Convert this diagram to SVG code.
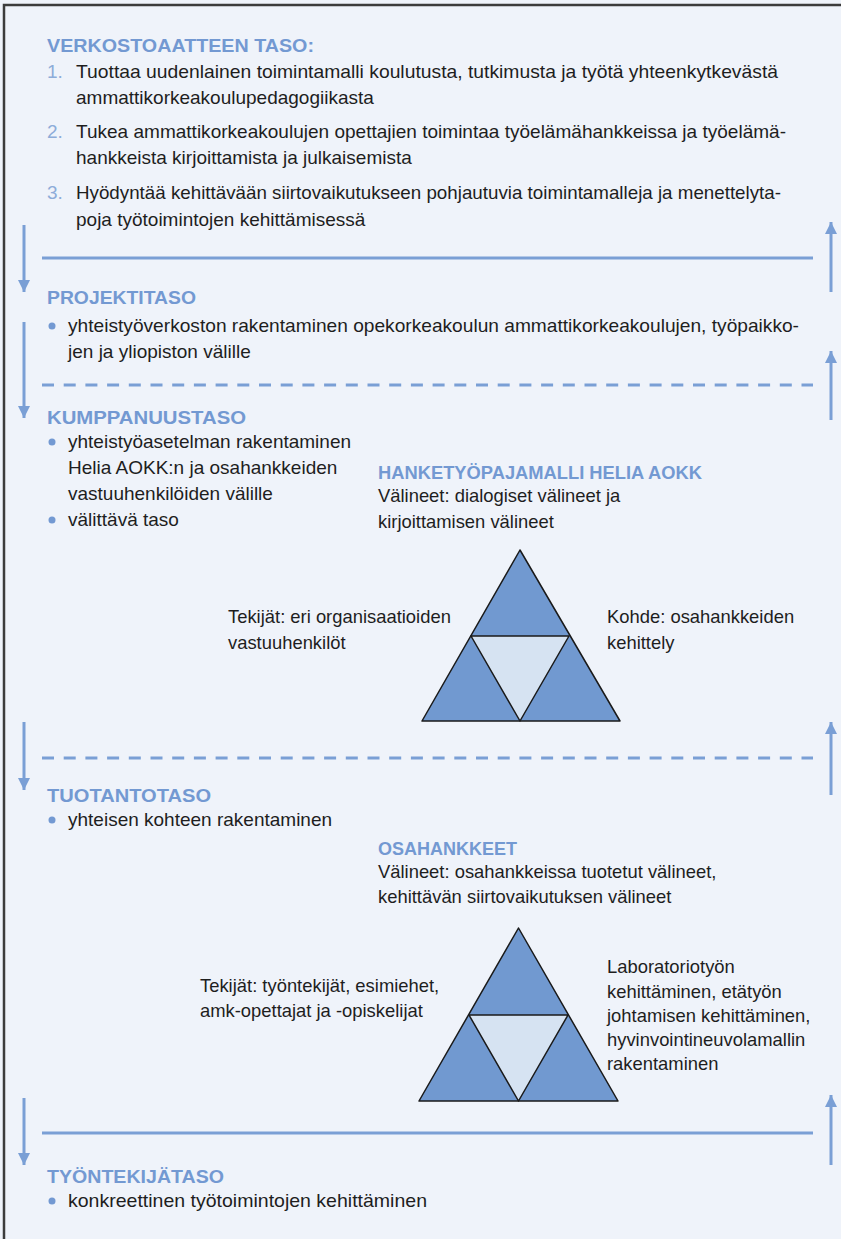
<svg xmlns="http://www.w3.org/2000/svg" width="841" height="1239" viewBox="0 0 841 1239">
<defs>
<style>
.bg{fill:#eff3fa}
.frame{fill:none;stroke:#3c3c3c;stroke-width:2.5}
.h{font-family:"Liberation Sans",Arial,sans-serif;font-weight:bold;font-size:19px;fill:#7399d2}
.t{font-family:"Liberation Sans",Arial,sans-serif;font-size:19px;fill:#1e1e1e}
.s{font-size:18.4px}
.n{font-family:"Liberation Sans",Arial,sans-serif;font-size:19px;fill:#8dacd9}
.b{fill:#7399d2}
.sep{stroke:#7a9fd5;stroke-width:3;fill:none}
.dash{stroke-dasharray:12 9.7}
.arr{stroke:#7a9fd5;stroke-width:3;fill:none}
.tri{fill:#7199d0;stroke:#1a1a1a;stroke-width:1.5;stroke-linejoin:round}
.inner{fill:#d6e3f2;stroke:#1a1a1a;stroke-width:1.5;stroke-linejoin:round}
</style>
<marker id="ah" viewBox="0 0 12 16" refX="12" refY="6" markerWidth="12" markerHeight="16" markerUnits="userSpaceOnUse" orient="auto">
<path d="M0,0 L16,6 L0,12 Z" fill="#7a9fd5" transform="scale(0.75,1)"/>
</marker>
</defs>
<rect class="bg" x="0" y="0" width="841" height="1239"/>
<path class="frame" d="M4,1239 V5 H841"/>

<g id="connectors">
<line class="sep" x1="42" y1="258" x2="813" y2="258"/>
<line class="sep dash" x1="42" y1="385" x2="813" y2="385"/>
<line class="sep dash" x1="42" y1="758" x2="813" y2="758"/>
<line class="sep" x1="42" y1="1133" x2="813" y2="1133"/>
<line class="arr" x1="24" y1="225" x2="24" y2="292" marker-end="url(#ah)"/>
<line class="arr" x1="831" y1="292" x2="831" y2="222" marker-end="url(#ah)"/>
<line class="arr" x1="24" y1="322" x2="24" y2="418" marker-end="url(#ah)"/>
<line class="arr" x1="831" y1="420" x2="831" y2="351" marker-end="url(#ah)"/>
<line class="arr" x1="24" y1="722" x2="24" y2="790" marker-end="url(#ah)"/>
<line class="arr" x1="831" y1="795" x2="831" y2="722" marker-end="url(#ah)"/>
<line class="arr" x1="24" y1="1098" x2="24" y2="1165" marker-end="url(#ah)"/>
<line class="arr" x1="831" y1="1165" x2="831" y2="1095" marker-end="url(#ah)"/>
</g>

<g id="verkostoaatteen-taso">
<text class="h" x="47" y="52" textLength="267" lengthAdjust="spacingAndGlyphs">VERKOSTOAATTEEN TASO:</text>
<text class="n" x="47" y="78">1.</text>
<text class="t" x="76" y="78" textLength="702" lengthAdjust="spacingAndGlyphs">Tuottaa uudenlainen toimintamalli koulutusta, tutkimusta ja työtä yhteenkytkevästä</text>
<text class="t" x="76" y="104">ammattikorkeakoulupedagogiikasta</text>
<text class="n" x="47" y="138">2.</text>
<text class="t" x="76" y="138" textLength="710" lengthAdjust="spacingAndGlyphs">Tukea ammattikorkeakoulujen opettajien toimintaa työelämähankkeissa ja työelämä-</text>
<text class="t" x="76" y="164">hankkeista kirjoittamista ja julkaisemista</text>
<text class="n" x="47" y="199">3.</text>
<text class="t" x="76" y="199" textLength="705" lengthAdjust="spacingAndGlyphs">Hyödyntää kehittävään siirtovaikutukseen pohjautuvia toimintamalleja ja menettelyta-</text>
<text class="t" x="76" y="226">poja työtoimintojen kehittämisessä</text>
</g>

<g id="projektitaso">
<text class="h" x="47" y="304" textLength="149" lengthAdjust="spacingAndGlyphs">PROJEKTITASO</text>
<circle class="b" cx="52" cy="326" r="3.5"/>
<text class="t" x="68" y="332" textLength="731" lengthAdjust="spacingAndGlyphs">yhteistyöverkoston rakentaminen opekorkeakoulun ammattikorkeakoulujen, työpaikko-</text>
<text class="t" x="68" y="358">jen ja yliopiston välille</text>
</g>

<g id="kumppanuustaso">
<text class="h" x="47" y="424" textLength="199" lengthAdjust="spacingAndGlyphs">KUMPPANUUSTASO</text>
<circle class="b" cx="52" cy="442" r="3.5"/>
<text class="t" x="68" y="448">yhteistyöasetelman rakentaminen</text>
<text class="t" x="68" y="474">Helia AOKK:n ja osahankkeiden</text>
<text class="t" x="68" y="500">vastuuhenkilöiden välille</text>
<circle class="b" cx="52" cy="520" r="3.5"/>
<text class="t" x="68" y="526">välittävä taso</text>
</g>

<g id="hanketyopajamalli">
<text class="h" x="378" y="479" textLength="324" lengthAdjust="spacingAndGlyphs">HANKETYÖPAJAMALLI HELIA AOKK</text>
<text class="t s" x="378" y="502">Välineet: dialogiset välineet ja</text>
<text class="t s" x="378" y="528">kirjoittamisen välineet</text>
<polygon class="tri" points="520,550 422,721 620,721"/>
<polygon class="inner" points="471,636 569,636 520,721"/>
<text class="t s" x="228" y="623">Tekijät: eri organisaatioiden</text>
<text class="t s" x="228" y="649">vastuuhenkilöt</text>
<text class="t s" x="607" y="623">Kohde: osahankkeiden</text>
<text class="t s" x="607" y="649">kehittely</text>
</g>

<g id="tuotantotaso">
<text class="h" x="47" y="802" textLength="164" lengthAdjust="spacingAndGlyphs">TUOTANTOTASO</text>
<circle class="b" cx="52" cy="820" r="3.5"/>
<text class="t" x="68" y="826">yhteisen kohteen rakentaminen</text>
</g>

<g id="osahankkeet">
<text class="h" x="378" y="855" textLength="139" lengthAdjust="spacingAndGlyphs">OSAHANKKEET</text>
<text class="t s" x="378" y="878">Välineet: osahankkeissa tuotetut välineet,</text>
<text class="t s" x="378" y="903">kehittävän siirtovaikutuksen välineet</text>
<polygon class="tri" points="518.5,928 419,1101 618,1101"/>
<polygon class="inner" points="469,1015 568,1015 518.5,1101"/>
<text class="t s" x="200" y="992">Tekijät: työntekijät, esimiehet,</text>
<text class="t s" x="200" y="1017">amk-opettajat ja -opiskelijat</text>
<text class="t s" x="607" y="973">Laboratoriotyön</text>
<text class="t s" x="607" y="998">kehittäminen, etätyön</text>
<text class="t s" x="607" y="1022">johtamisen kehittäminen,</text>
<text class="t s" x="607" y="1046">hyvinvointineuvolamallin</text>
<text class="t s" x="607" y="1070">rakentaminen</text>
</g>

<g id="tyontekijataso">
<text class="h" x="47" y="1183" textLength="177" lengthAdjust="spacingAndGlyphs">TYÖNTEKIJÄTASO</text>
<circle class="b" cx="52" cy="1201" r="3.5"/>
<text class="t" x="68" y="1207" textLength="359" lengthAdjust="spacingAndGlyphs">konkreettinen työtoimintojen kehittäminen</text>
</g>
</svg>
